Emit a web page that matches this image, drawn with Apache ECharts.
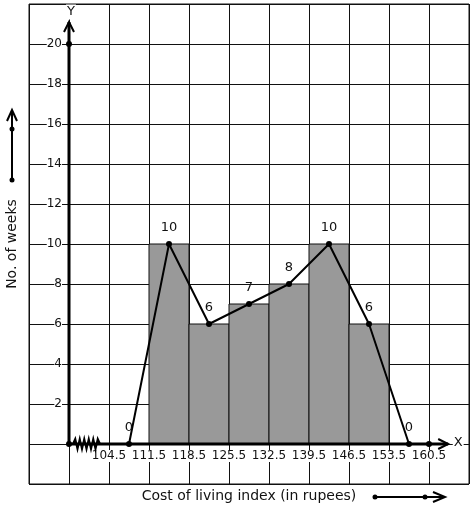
<!DOCTYPE html>
<html><head><meta charset="utf-8">
<script src="https://cdn.jsdelivr.net/npm/echarts@6/dist/echarts.min.js"></script>
<style>html,body{margin:0;padding:0;background:#fff}#c{width:474px;height:510px}</style>
</head><body><div id="c"></div>
<script>
// ---- data ----
const classLower = [111.5, 118.5, 125.5, 132.5, 139.5, 146.5];
const classUpper = [118.5, 125.5, 132.5, 139.5, 146.5, 153.5];
const frequencies = [10, 6, 7, 8, 10, 6];
const polygonMarks = [108, 115, 122, 129, 136, 143, 150, 157];
const polygonValues = [0, 10, 6, 7, 8, 10, 6, 0];
const xTickLabels = ['104.5', '111.5', '118.5', '125.5', '132.5', '139.5', '146.5', '153.5', '160.5'];
const yTickLabels = [2, 4, 6, 8, 10, 12, 14, 16, 18, 20];
const xTitle = 'Cost of living index (in rupees)';
const yTitle = 'No. of weeks';

// axis mapping: index space, 0 = axis origin (97.5), 1 unit = one class width
const xOrigin = 97.5, classWidth = 7;
function toIdx(v) { return (v - xOrigin) / classWidth; }

const font = 'DejaVu Sans';
const chart = echarts.init(document.getElementById('c'), null, { renderer: 'canvas' });

function chevron(tip, dir, len, half) {
  if (dir === 'up') return [[tip[0] - half, tip[1] + len], tip, [tip[0] + half, tip[1] + len]];
  return [[tip[0] - len, tip[1] - half], tip, [tip[0] - len, tip[1] + half]];
}

const option = {
  animation: false,
  backgroundColor: '#fff',
  grid: { left: 29, right: 5, top: 4, bottom: 26, show: true, borderColor: '#111', borderWidth: 1, backgroundColor: 'transparent' },
  xAxis: {
    type: 'value', min: -1, max: 10, interval: 1,
    offset: -40,
    axisLine: { show: false, onZero: false },
    axisTick: { show: false },
    splitLine: { show: true, lineStyle: { color: '#111', width: 1 } },
    axisLabel: {
      show: true, margin: 6, fontFamily: font, fontSize: 12, color: '#111',
      showMinLabel: false, showMaxLabel: false,
      backgroundColor: '#fff',
      formatter: function (v) {
        const i = Math.round(v) - 1;
        return (i >= 0 && i < xTickLabels.length) ? xTickLabels[i] : '';
      }
    }
  },
  yAxis: {
    type: 'value', min: -2, max: 22, interval: 2,
    offset: -40,
    axisLine: { show: false, onZero: false },
    axisTick: { show: false },
    splitLine: { show: true, lineStyle: { color: '#111', width: 1 } },
    axisLabel: {
      show: true, margin: 7, fontFamily: font, fontSize: 12, color: '#111',
      showMinLabel: false, showMaxLabel: false,
      backgroundColor: '#fff',
      formatter: function (v) { return yTickLabels.indexOf(v) >= 0 ? String(v) : ''; }
    }
  },
  series: [
    {
      type: 'custom', name: 'histogram', z: 3,
      data: classLower.map((l, i) => [toIdx(l), toIdx(classUpper[i]), frequencies[i]]),
      renderItem: function (params, api) {
        const p0 = api.coord([api.value(0), api.value(2)]);
        const p1 = api.coord([api.value(1), 0]);
        return {
          type: 'rect',
          shape: { x: p0[0], y: p0[1], width: p1[0] - p0[0], height: p1[1] - p0[1] },
          style: { fill: '#999999', stroke: '#111', lineWidth: 1 }
        };
      }
    },
    {
      type: 'custom', name: 'axes', z: 4,
      data: [[0, 0]],
      renderItem: function (params, api) {
        const o = api.coord([0, 0]);
        const yTop = api.coord([0, 21.1]);
        const xEnd = api.coord([9.48, 0]);
        const y20 = api.coord([0, 20]);
        const x9 = api.coord([9, 0]);
        const zig = [];
        for (let k = 0; k <= 12; k++) {
          zig.push([o[0] + 4 + k * 2.25, o[1] + (k === 0 || k === 12 ? 0 : (k % 2 ? -5 : 5))]);
        }
        const black = { stroke: '#000', fill: null, lineWidth: 3 };
        return {
          type: 'group',
          children: [
            { type: 'line', shape: { x1: o[0], y1: o[1], x2: yTop[0], y2: yTop[1] }, style: black },
            { type: 'line', shape: { x1: o[0], y1: o[1], x2: xEnd[0], y2: xEnd[1] }, style: black },
            { type: 'polyline', shape: { points: chevron(yTop, 'up', 10, 5) }, style: { stroke: '#000', fill: null, lineWidth: 2 } },
            { type: 'polyline', shape: { points: chevron(xEnd, 'right', 10, 5) }, style: { stroke: '#000', fill: null, lineWidth: 2 } },
            { type: 'polyline', shape: { points: zig }, style: { stroke: '#000', fill: null, lineWidth: 2 } },
            { type: 'circle', shape: { cx: o[0], cy: o[1], r: 3 }, style: { fill: '#000' } },
            { type: 'circle', shape: { cx: y20[0], cy: y20[1], r: 3 }, style: { fill: '#000' } },
            { type: 'circle', shape: { cx: x9[0], cy: x9[1], r: 3 }, style: { fill: '#000' } },
            { type: 'text', x: yTop[0] + 2, y: yTop[1] - 10, style: { text: 'Y', fontFamily: font, fontSize: 13, fill: '#111', align: 'center', verticalAlign: 'middle', backgroundColor: '#fff', padding: [1, 1] } },
            { type: 'text', x: xEnd[0] + 10, y: xEnd[1] - 1, style: { text: 'X', fontFamily: font, fontSize: 13, fill: '#111', align: 'center', verticalAlign: 'middle', backgroundColor: '#fff', padding: [1, 1] } }
          ]
        };
      }
    },
    {
      type: 'line', name: 'polygon', z: 5,
      data: polygonMarks.map((m, i) => [toIdx(m), polygonValues[i]]),
      symbol: 'circle', symbolSize: 6,
      itemStyle: { color: '#000' },
      lineStyle: { color: '#000', width: 2 },
      label: { show: true, position: 'top', distance: 7, fontFamily: font, fontSize: 13, color: '#111',
        formatter: p => String(p.value[1]) }
    }
  ],
  graphic: [
    { type: 'text', x: 249, y: 496, style: { text: xTitle, fontFamily: font, fontSize: 14, fill: '#111', align: 'center', verticalAlign: 'middle' } },
    { type: 'text', x: 12, y: 244, rotation: Math.PI / 2, style: { text: yTitle, fontFamily: font, fontSize: 14, fill: '#111', align: 'center', verticalAlign: 'middle' } },
    { type: 'line', shape: { x1: 12, y1: 180, x2: 12, y2: 111 }, style: { stroke: '#000', lineWidth: 2 } },
    { type: 'polyline', shape: { points: [[7, 121], [12, 110], [17, 121]] }, style: { stroke: '#000', fill: null, lineWidth: 2 } },
    { type: 'circle', shape: { cx: 12, cy: 180, r: 2.5 }, style: { fill: '#000' } },
    { type: 'circle', shape: { cx: 12, cy: 129, r: 2.5 }, style: { fill: '#000' } },
    { type: 'line', shape: { x1: 375, y1: 497, x2: 444, y2: 497 }, style: { stroke: '#000', lineWidth: 2 } },
    { type: 'polyline', shape: { points: [[433, 492], [445, 497], [433, 502]] }, style: { stroke: '#000', fill: null, lineWidth: 2 } },
    { type: 'circle', shape: { cx: 375, cy: 497, r: 2.5 }, style: { fill: '#000' } },
    { type: 'circle', shape: { cx: 425, cy: 497, r: 2.5 }, style: { fill: '#000' } }
  ]
};
chart.setOption(option);
</script>
</body></html>
